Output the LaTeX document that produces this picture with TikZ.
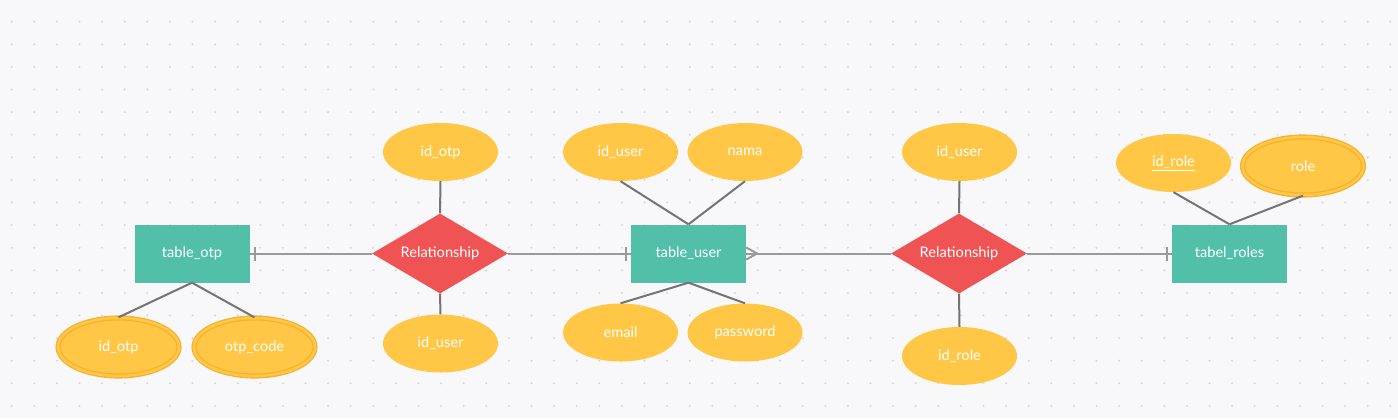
\documentclass[tikz,border=0pt]{standalone}
\usepackage{fontspec}
\setmainfont{Lato}
\usetikzlibrary{shapes.geometric}
\definecolor{bg}{HTML}{F8F8FA}
\definecolor{dotc}{HTML}{D6D6DA}
\definecolor{teal}{HTML}{52BFA8}
\definecolor{yel}{HTML}{FFC745}
\definecolor{ybord}{HTML}{F5B22E}
\definecolor{relred}{HTML}{F05353}
\definecolor{lnA}{HTML}{747474}
\definecolor{lnB}{HTML}{9A9A9A}
\tikzset{
  lbl/.style={text=white, font=\fontsize{14.6}{16}\selectfont},
  entity/.style={rectangle, fill=teal, minimum width=115pt, minimum height=58pt, inner sep=0pt, lbl},
  attr/.style={ellipse, fill=yel, minimum width=115pt, minimum height=58pt, inner sep=0pt, lbl},
  mattr/.style={ellipse, fill=yel, draw=ybord, double=yel, double distance=2.5pt, line width=1.3pt, minimum width=121pt, minimum height=58pt, inner sep=0pt, lbl},
  rel/.style={diamond, fill=relred, minimum width=136pt, minimum height=80pt, inner sep=0pt, aspect=1.7, lbl},
  alink/.style={draw=lnA, line width=2pt},
  hlink/.style={draw=lnB, line width=2pt},
}
\begin{document}
\begin{tikzpicture}[x=1pt,y=-1pt]
\fill[bg] (0,0) rectangle (1398,418);
\useasboundingbox (0,0) rectangle (1398,418);
\foreach \i in {0,...,61}{
  \foreach \j in {0,...,18}{
    \fill[dotc] ({11.7+22.6*\i},{-0.9+22.6*\j}) circle (1.1pt);
  }
}
% entities
\node[entity] (otp) at (192,253.5) {table\_otp};
\node[entity] (user) at (688.5,253.5) {table\_user};
\node[entity] (roles) at (1229.5,253.5) {tabel\_roles};
% relationships
\node[rel] (r1) at (440,253.5) {Relationship};
\node[rel] (r2) at (959,253.5) {Relationship};
% attributes
\node[mattr] (a_idotp) at (118.5,347) {id\_otp};
\node[mattr] (a_otpcode) at (254.5,347) {otp\_code};
\node[attr] (r1top) at (440.5,152) {id\_otp};
\node[attr] (r1bot) at (440.5,343.5) {id\_user};
\node[attr] (u_id) at (620.5,152) {id\_user};
\node[attr] (u_nama) at (745,152) {nama};
\node[attr] (u_email) at (620.5,332.5) {email};
\node[attr] (u_pass) at (745,332.5) {password};
\node[attr] (r2top) at (959.5,152) {id\_user};
\node[attr] (r2bot) at (959.5,356) {id\_role};
\node[attr] (ro_id) at (1173.5,163) {\underline{id\_role}};
\node[mattr] (ro_role) at (1303,166) {role};
% attribute links
\draw[alink] (otp.south) -- (a_idotp.north);
\draw[alink] (otp.south) -- (a_otpcode.north);
\draw[alink] (r1top.south) -- (r1.north);
\draw[alink] (r1bot.north) -- (r1.south);
\draw[alink] (u_id.south) -- (user.north);
\draw[alink] (u_nama.south) -- (user.north);
\draw[alink] (u_email.north) -- (user.south);
\draw[alink] (u_pass.north) -- (user.south);
\draw[alink] (r2top.south) -- (r2.north);
\draw[alink] (r2bot.north) -- (r2.south);
\draw[alink] (ro_id.south) -- (roles.north);
\draw[alink] (ro_role.south) -- (roles.north);
% relationship links
\draw[hlink] (otp.east) -- (r1.west);
\draw[hlink] (r1.east) -- (user.west);
\draw[hlink] (user.east) -- (r2.west);
\draw[hlink] (r2.east) -- (roles.west);
% cardinality marks
\draw[hlink] ([xshift=5pt,yshift=-7pt]otp.east) -- ([xshift=5pt,yshift=7pt]otp.east);
\draw[hlink] ([xshift=-5pt,yshift=-7pt]user.west) -- ([xshift=-5pt,yshift=7pt]user.west);
\draw[hlink] ([xshift=-5pt,yshift=-7pt]roles.west) -- ([xshift=-5pt,yshift=7pt]roles.west);
\coordinate (cf) at ([xshift=11pt]user.east);
\draw[hlink] ([yshift=-6pt]user.east) -- (cf) -- ([yshift=6pt]user.east);
\end{tikzpicture}
\end{document}
